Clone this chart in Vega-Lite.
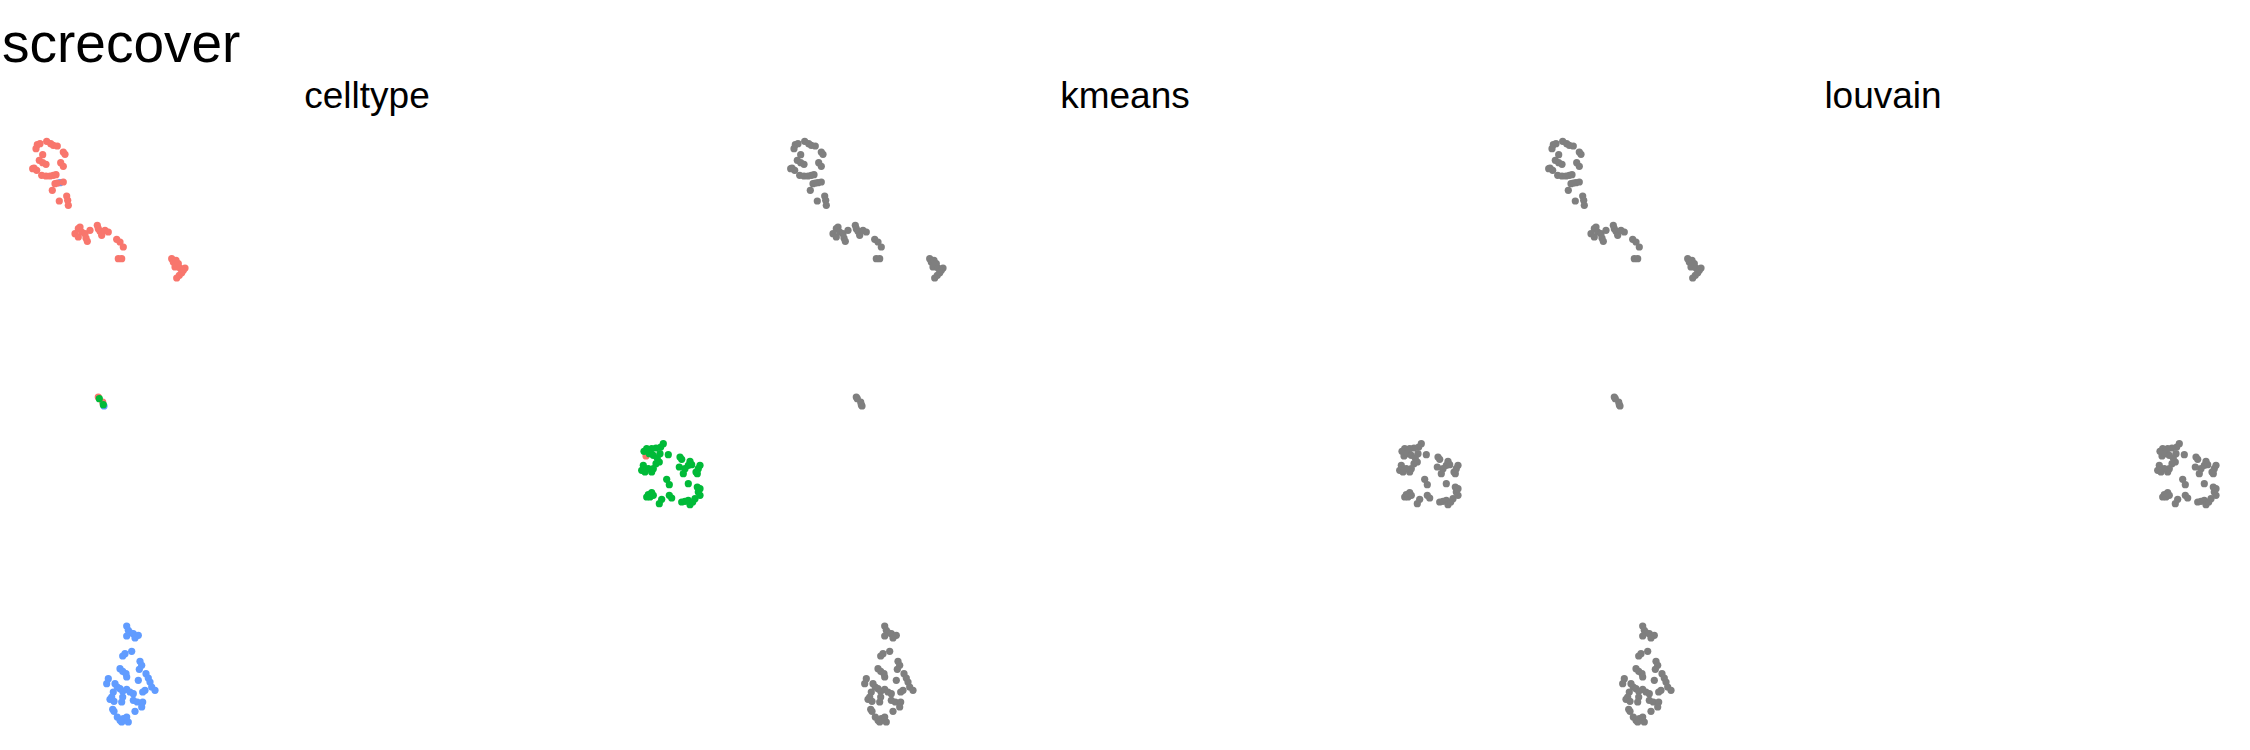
{
"$schema": "https://vega.github.io/schema/vega-lite/v6.json",
"padding": {"top": 18, "left": 0, "right": 0, "bottom": 0},
"background": "white",
"title": {"text": "screcover", "anchor": "start", "fontSize": 55, "font": "Liberation Sans", "fontWeight": "normal", "color": "#000000", "offset": 4, "dx": 2},
"data": {"values": [
{"x":-30.8,"y":24.83,"celltype":"type3","kmeans":"NA","louvain":"NA"},
{"x":-33.07,"y":28.63,"celltype":"type1","kmeans":"NA","louvain":"NA"},
{"x":-32.8,"y":28.73,"celltype":"type1","kmeans":"NA","louvain":"NA"},
{"x":-33.2,"y":28.23,"celltype":"type1","kmeans":"NA","louvain":"NA"},
{"x":-32.13,"y":28.97,"celltype":"type1","kmeans":"NA","louvain":"NA"},
{"x":-31.73,"y":28.73,"celltype":"type1","kmeans":"NA","louvain":"NA"},
{"x":-31.47,"y":28.57,"celltype":"type1","kmeans":"NA","louvain":"NA"},
{"x":-31.07,"y":28.5,"celltype":"type1","kmeans":"NA","louvain":"NA"},
{"x":-30.47,"y":27.9,"celltype":"type1","kmeans":"NA","louvain":"NA"},
{"x":-30.3,"y":27.67,"celltype":"type1","kmeans":"NA","louvain":"NA"},
{"x":-32.53,"y":27.63,"celltype":"type1","kmeans":"NA","louvain":"NA"},
{"x":-32.87,"y":27.07,"celltype":"type1","kmeans":"NA","louvain":"NA"},
{"x":-32.53,"y":26.83,"celltype":"type1","kmeans":"NA","louvain":"NA"},
{"x":-32.2,"y":26.67,"celltype":"type1","kmeans":"NA","louvain":"NA"},
{"x":-33.4,"y":26.3,"celltype":"type1","kmeans":"NA","louvain":"NA"},
{"x":-33.13,"y":26.07,"celltype":"type1","kmeans":"NA","louvain":"NA"},
{"x":-33.53,"y":26.23,"celltype":"type1","kmeans":"NA","louvain":"NA"},
{"x":-30.73,"y":26.83,"celltype":"type1","kmeans":"NA","louvain":"NA"},
{"x":-30.47,"y":26.47,"celltype":"type1","kmeans":"NA","louvain":"NA"},
{"x":-32.63,"y":25.57,"celltype":"type1","kmeans":"NA","louvain":"NA"},
{"x":-32.2,"y":25.5,"celltype":"type1","kmeans":"NA","louvain":"NA"},
{"x":-31.8,"y":25.5,"celltype":"type1","kmeans":"NA","louvain":"NA"},
{"x":-31.47,"y":25.57,"celltype":"type1","kmeans":"NA","louvain":"NA"},
{"x":-31.2,"y":25.63,"celltype":"type1","kmeans":"NA","louvain":"NA"},
{"x":-31.3,"y":24.73,"celltype":"type1","kmeans":"NA","louvain":"NA"},
{"x":-31.07,"y":24.8,"celltype":"type1","kmeans":"NA","louvain":"NA"},
{"x":-30.47,"y":24.9,"celltype":"type1","kmeans":"NA","louvain":"NA"},
{"x":-31.57,"y":24.07,"celltype":"type1","kmeans":"NA","louvain":"NA"},
{"x":-30.13,"y":23.5,"celltype":"type1","kmeans":"NA","louvain":"NA"},
{"x":-30.03,"y":23.07,"celltype":"type1","kmeans":"NA","louvain":"NA"},
{"x":-29.97,"y":22.57,"celltype":"type1","kmeans":"NA","louvain":"NA"},
{"x":-30.87,"y":23.0,"celltype":"type1","kmeans":"NA","louvain":"NA"},
{"x":-28.8,"y":20.4,"celltype":"type1","kmeans":"NA","louvain":"NA"},
{"x":-28.97,"y":20.23,"celltype":"type1","kmeans":"NA","louvain":"NA"},
{"x":-29.3,"y":19.73,"celltype":"type1","kmeans":"NA","louvain":"NA"},
{"x":-28.97,"y":19.4,"celltype":"type1","kmeans":"NA","louvain":"NA"},
{"x":-28.63,"y":19.9,"celltype":"type1","kmeans":"NA","louvain":"NA"},
{"x":-28.3,"y":19.73,"celltype":"type1","kmeans":"NA","louvain":"NA"},
{"x":-28.2,"y":19.3,"celltype":"type1","kmeans":"NA","louvain":"NA"},
{"x":-28.07,"y":18.97,"celltype":"type1","kmeans":"NA","louvain":"NA"},
{"x":-27.8,"y":20.07,"celltype":"type1","kmeans":"NA","louvain":"NA"},
{"x":-27.07,"y":20.57,"celltype":"type1","kmeans":"NA","louvain":"NA"},
{"x":-26.97,"y":20.23,"celltype":"type1","kmeans":"NA","louvain":"NA"},
{"x":-26.8,"y":19.97,"celltype":"type1","kmeans":"NA","louvain":"NA"},
{"x":-26.63,"y":19.57,"celltype":"type1","kmeans":"NA","louvain":"NA"},
{"x":-26.3,"y":20.07,"celltype":"type1","kmeans":"NA","louvain":"NA"},
{"x":-25.97,"y":19.9,"celltype":"type1","kmeans":"NA","louvain":"NA"},
{"x":-25.13,"y":19.17,"celltype":"type1","kmeans":"NA","louvain":"NA"},
{"x":-24.8,"y":18.9,"celltype":"type1","kmeans":"NA","louvain":"NA"},
{"x":-24.47,"y":18.4,"celltype":"type1","kmeans":"NA","louvain":"NA"},
{"x":-24.97,"y":17.23,"celltype":"type1","kmeans":"NA","louvain":"NA"},
{"x":-24.63,"y":17.23,"celltype":"type1","kmeans":"NA","louvain":"NA"},
{"x":-19.63,"y":17.23,"celltype":"type1","kmeans":"NA","louvain":"NA"},
{"x":-19.47,"y":16.9,"celltype":"type1","kmeans":"NA","louvain":"NA"},
{"x":-19.2,"y":17.07,"celltype":"type1","kmeans":"NA","louvain":"NA"},
{"x":-18.97,"y":16.73,"celltype":"type1","kmeans":"NA","louvain":"NA"},
{"x":-19.3,"y":16.4,"celltype":"type1","kmeans":"NA","louvain":"NA"},
{"x":-18.8,"y":16.3,"celltype":"type1","kmeans":"NA","louvain":"NA"},
{"x":-18.3,"y":16.3,"celltype":"type1","kmeans":"NA","louvain":"NA"},
{"x":-18.47,"y":16.07,"celltype":"type1","kmeans":"NA","louvain":"NA"},
{"x":-18.63,"y":15.83,"celltype":"type1","kmeans":"NA","louvain":"NA"},
{"x":-18.87,"y":15.57,"celltype":"type1","kmeans":"NA","louvain":"NA"},
{"x":-19.13,"y":15.3,"celltype":"type1","kmeans":"NA","louvain":"NA"},
{"x":-26.97,"y":3.4,"celltype":"type1","kmeans":"NA","louvain":"NA"},
{"x":-26.53,"y":2.9,"celltype":"type1","kmeans":"NA","louvain":"NA"},
{"x":-26.4,"y":2.5,"celltype":"type3","kmeans":"NA","louvain":"NA"},
{"x":-26.87,"y":3.23,"celltype":"type2","kmeans":"NA","louvain":"NA"},
{"x":-26.47,"y":2.63,"celltype":"type2","kmeans":"NA","louvain":"NA"},
{"x":27.8,"y":-2.5,"celltype":"type1","kmeans":"NA","louvain":"NA"},
{"x":29.53,"y":-1.27,"celltype":"type2","kmeans":"NA","louvain":"NA"},
{"x":29.27,"y":-1.6,"celltype":"type2","kmeans":"NA","louvain":"NA"},
{"x":28.8,"y":-1.7,"celltype":"type2","kmeans":"NA","louvain":"NA"},
{"x":28.37,"y":-1.77,"celltype":"type2","kmeans":"NA","louvain":"NA"},
{"x":27.87,"y":-1.77,"celltype":"type2","kmeans":"NA","louvain":"NA"},
{"x":27.6,"y":-2.03,"celltype":"type2","kmeans":"NA","louvain":"NA"},
{"x":28.13,"y":-2.27,"celltype":"type2","kmeans":"NA","louvain":"NA"},
{"x":28.53,"y":-2.43,"celltype":"type2","kmeans":"NA","louvain":"NA"},
{"x":28.93,"y":-2.7,"celltype":"type2","kmeans":"NA","louvain":"NA"},
{"x":29.2,"y":-2.27,"celltype":"type2","kmeans":"NA","louvain":"NA"},
{"x":29.13,"y":-3.1,"celltype":"type2","kmeans":"NA","louvain":"NA"},
{"x":28.8,"y":-3.27,"celltype":"type2","kmeans":"NA","louvain":"NA"},
{"x":28.53,"y":-3.77,"celltype":"type2","kmeans":"NA","louvain":"NA"},
{"x":28.37,"y":-4.1,"celltype":"type2","kmeans":"NA","louvain":"NA"},
{"x":28.03,"y":-3.77,"celltype":"type2","kmeans":"NA","louvain":"NA"},
{"x":27.53,"y":-3.43,"celltype":"type2","kmeans":"NA","louvain":"NA"},
{"x":27.37,"y":-3.93,"celltype":"type2","kmeans":"NA","louvain":"NA"},
{"x":27.7,"y":-4.1,"celltype":"type2","kmeans":"NA","louvain":"NA"},
{"x":30.03,"y":-2.37,"celltype":"type2","kmeans":"NA","louvain":"NA"},
{"x":31.2,"y":-2.6,"celltype":"type2","kmeans":"NA","louvain":"NA"},
{"x":31.37,"y":-2.83,"celltype":"type2","kmeans":"NA","louvain":"NA"},
{"x":32.2,"y":-3.03,"celltype":"type2","kmeans":"NA","louvain":"NA"},
{"x":32.03,"y":-3.43,"celltype":"type2","kmeans":"NA","louvain":"NA"},
{"x":31.7,"y":-3.77,"celltype":"type2","kmeans":"NA","louvain":"NA"},
{"x":31.53,"y":-4.27,"celltype":"type2","kmeans":"NA","louvain":"NA"},
{"x":31.13,"y":-3.6,"celltype":"type2","kmeans":"NA","louvain":"NA"},
{"x":33.2,"y":-3.43,"celltype":"type2","kmeans":"NA","louvain":"NA"},
{"x":33.03,"y":-3.77,"celltype":"type2","kmeans":"NA","louvain":"NA"},
{"x":32.8,"y":-4.1,"celltype":"type2","kmeans":"NA","louvain":"NA"},
{"x":32.93,"y":-4.27,"celltype":"type2","kmeans":"NA","louvain":"NA"},
{"x":32.37,"y":-3.37,"celltype":"type2","kmeans":"NA","louvain":"NA"},
{"x":29.87,"y":-4.83,"celltype":"type2","kmeans":"NA","louvain":"NA"},
{"x":30.13,"y":-5.37,"celltype":"type2","kmeans":"NA","louvain":"NA"},
{"x":32.03,"y":-5.27,"celltype":"type2","kmeans":"NA","louvain":"NA"},
{"x":28.37,"y":-6.17,"celltype":"type2","kmeans":"NA","louvain":"NA"},
{"x":28.03,"y":-6.37,"celltype":"type2","kmeans":"NA","louvain":"NA"},
{"x":27.87,"y":-6.6,"celltype":"type2","kmeans":"NA","louvain":"NA"},
{"x":28.2,"y":-6.6,"celltype":"type2","kmeans":"NA","louvain":"NA"},
{"x":28.53,"y":-6.43,"celltype":"type2","kmeans":"NA","louvain":"NA"},
{"x":29.37,"y":-6.83,"celltype":"type2","kmeans":"NA","louvain":"NA"},
{"x":29.13,"y":-7.27,"celltype":"type2","kmeans":"NA","louvain":"NA"},
{"x":30.13,"y":-6.43,"celltype":"type2","kmeans":"NA","louvain":"NA"},
{"x":30.37,"y":-6.7,"celltype":"type2","kmeans":"NA","louvain":"NA"},
{"x":31.37,"y":-7.1,"celltype":"type2","kmeans":"NA","louvain":"NA"},
{"x":31.7,"y":-7.03,"celltype":"type2","kmeans":"NA","louvain":"NA"},
{"x":32.03,"y":-6.93,"celltype":"type2","kmeans":"NA","louvain":"NA"},
{"x":32.2,"y":-7.37,"celltype":"type2","kmeans":"NA","louvain":"NA"},
{"x":32.47,"y":-7.1,"celltype":"type2","kmeans":"NA","louvain":"NA"},
{"x":32.7,"y":-6.77,"celltype":"type2","kmeans":"NA","louvain":"NA"},
{"x":33.03,"y":-6.1,"celltype":"type2","kmeans":"NA","louvain":"NA"},
{"x":33.2,"y":-6.43,"celltype":"type2","kmeans":"NA","louvain":"NA"},
{"x":32.93,"y":-5.6,"celltype":"type2","kmeans":"NA","louvain":"NA"},
{"x":33.2,"y":-5.77,"celltype":"type2","kmeans":"NA","louvain":"NA"},
{"x":-24.13,"y":-19.5,"celltype":"type3","kmeans":"NA","louvain":"NA"},
{"x":-23.97,"y":-19.93,"celltype":"type3","kmeans":"NA","louvain":"NA"},
{"x":-23.8,"y":-20.17,"celltype":"type3","kmeans":"NA","louvain":"NA"},
{"x":-23.47,"y":-20.27,"celltype":"type3","kmeans":"NA","louvain":"NA"},
{"x":-22.97,"y":-20.43,"celltype":"type3","kmeans":"NA","louvain":"NA"},
{"x":-24.13,"y":-20.5,"celltype":"type3","kmeans":"NA","louvain":"NA"},
{"x":-23.3,"y":-20.7,"celltype":"type3","kmeans":"NA","louvain":"NA"},
{"x":-23.63,"y":-22.03,"celltype":"type3","kmeans":"NA","louvain":"NA"},
{"x":-24.3,"y":-22.27,"celltype":"type3","kmeans":"NA","louvain":"NA"},
{"x":-24.53,"y":-22.5,"celltype":"type3","kmeans":"NA","louvain":"NA"},
{"x":-22.8,"y":-23.03,"celltype":"type3","kmeans":"NA","louvain":"NA"},
{"x":-22.63,"y":-23.43,"celltype":"type3","kmeans":"NA","louvain":"NA"},
{"x":-22.87,"y":-23.83,"celltype":"type3","kmeans":"NA","louvain":"NA"},
{"x":-24.8,"y":-23.77,"celltype":"type3","kmeans":"NA","louvain":"NA"},
{"x":-24.53,"y":-24.03,"celltype":"type3","kmeans":"NA","louvain":"NA"},
{"x":-24.2,"y":-24.27,"celltype":"type3","kmeans":"NA","louvain":"NA"},
{"x":-24.13,"y":-24.6,"celltype":"type3","kmeans":"NA","louvain":"NA"},
{"x":-22.2,"y":-24.27,"celltype":"type3","kmeans":"NA","louvain":"NA"},
{"x":-21.97,"y":-24.7,"celltype":"type3","kmeans":"NA","louvain":"NA"},
{"x":-21.8,"y":-25.1,"celltype":"type3","kmeans":"NA","louvain":"NA"},
{"x":-21.63,"y":-25.6,"celltype":"type3","kmeans":"NA","louvain":"NA"},
{"x":-21.3,"y":-25.93,"celltype":"type3","kmeans":"NA","louvain":"NA"},
{"x":-22.3,"y":-25.93,"celltype":"type3","kmeans":"NA","louvain":"NA"},
{"x":-22.53,"y":-26.1,"celltype":"type3","kmeans":"NA","louvain":"NA"},
{"x":-22.97,"y":-24.93,"celltype":"type3","kmeans":"NA","louvain":"NA"},
{"x":-25.97,"y":-24.77,"celltype":"type3","kmeans":"NA","louvain":"NA"},
{"x":-26.13,"y":-25.27,"celltype":"type3","kmeans":"NA","louvain":"NA"},
{"x":-25.3,"y":-25.27,"celltype":"type3","kmeans":"NA","louvain":"NA"},
{"x":-25.07,"y":-25.6,"celltype":"type3","kmeans":"NA","louvain":"NA"},
{"x":-24.8,"y":-25.77,"celltype":"type3","kmeans":"NA","louvain":"NA"},
{"x":-24.53,"y":-26.03,"celltype":"type3","kmeans":"NA","louvain":"NA"},
{"x":-24.13,"y":-25.83,"celltype":"type3","kmeans":"NA","louvain":"NA"},
{"x":-23.8,"y":-26.1,"celltype":"type3","kmeans":"NA","louvain":"NA"},
{"x":-23.47,"y":-26.27,"celltype":"type3","kmeans":"NA","louvain":"NA"},
{"x":-25.47,"y":-26.1,"celltype":"type3","kmeans":"NA","louvain":"NA"},
{"x":-25.63,"y":-26.6,"celltype":"type3","kmeans":"NA","louvain":"NA"},
{"x":-25.8,"y":-26.83,"celltype":"type3","kmeans":"NA","louvain":"NA"},
{"x":-25.4,"y":-27.03,"celltype":"type3","kmeans":"NA","louvain":"NA"},
{"x":-24.53,"y":-26.6,"celltype":"type3","kmeans":"NA","louvain":"NA"},
{"x":-24.63,"y":-27.1,"celltype":"type3","kmeans":"NA","louvain":"NA"},
{"x":-23.47,"y":-26.93,"celltype":"type3","kmeans":"NA","louvain":"NA"},
{"x":-23.07,"y":-27.1,"celltype":"type3","kmeans":"NA","louvain":"NA"},
{"x":-22.53,"y":-27.1,"celltype":"type3","kmeans":"NA","louvain":"NA"},
{"x":-22.63,"y":-27.6,"celltype":"type3","kmeans":"NA","louvain":"NA"},
{"x":-23.3,"y":-28.03,"celltype":"type3","kmeans":"NA","louvain":"NA"},
{"x":-25.53,"y":-27.83,"celltype":"type3","kmeans":"NA","louvain":"NA"},
{"x":-25.4,"y":-28.03,"celltype":"type3","kmeans":"NA","louvain":"NA"},
{"x":-25.07,"y":-28.6,"celltype":"type3","kmeans":"NA","louvain":"NA"},
{"x":-24.8,"y":-28.93,"celltype":"type3","kmeans":"NA","louvain":"NA"},
{"x":-24.47,"y":-28.77,"celltype":"type3","kmeans":"NA","louvain":"NA"},
{"x":-24.63,"y":-29.1,"celltype":"type3","kmeans":"NA","louvain":"NA"},
{"x":-23.97,"y":-29.1,"celltype":"type3","kmeans":"NA","louvain":"NA"},
{"x":-24.13,"y":-28.6,"celltype":"type3","kmeans":"NA","louvain":"NA"}
]},
"transform": [{"fold": ["celltype", "kmeans", "louvain"], "as": ["method", "cluster"]}],
"facet": {"column": {"field": "method", "type": "nominal", "title": null,
  "header": {"labelFontSize": 37, "labelFont": "Liberation Sans", "labelColor": "#000000", "labelPadding": -4}}},
"spacing": 24,
"spec": {
  "width": 734,
  "height": 640,
  "mark": {"type": "circle", "size": 52, "opacity": 1},
  "encoding": {
    "x": {"field": "x", "type": "quantitative", "scale": {"domain": [-36.8, 36.6], "nice": false, "zero": false}, "axis": null},
    "y": {"field": "y", "type": "quantitative", "scale": {"domain": [-32.1, 31.9], "nice": false, "zero": false}, "axis": null},
    "color": {"field": "cluster", "type": "nominal", "scale": {"domain": ["type1", "type2", "type3", "NA"], "range": ["#F8766D", "#00BA38", "#619CFF", "#7F7F7F"]}, "legend": null}
  }
},
"config": {"view": {"stroke": null}}
}
